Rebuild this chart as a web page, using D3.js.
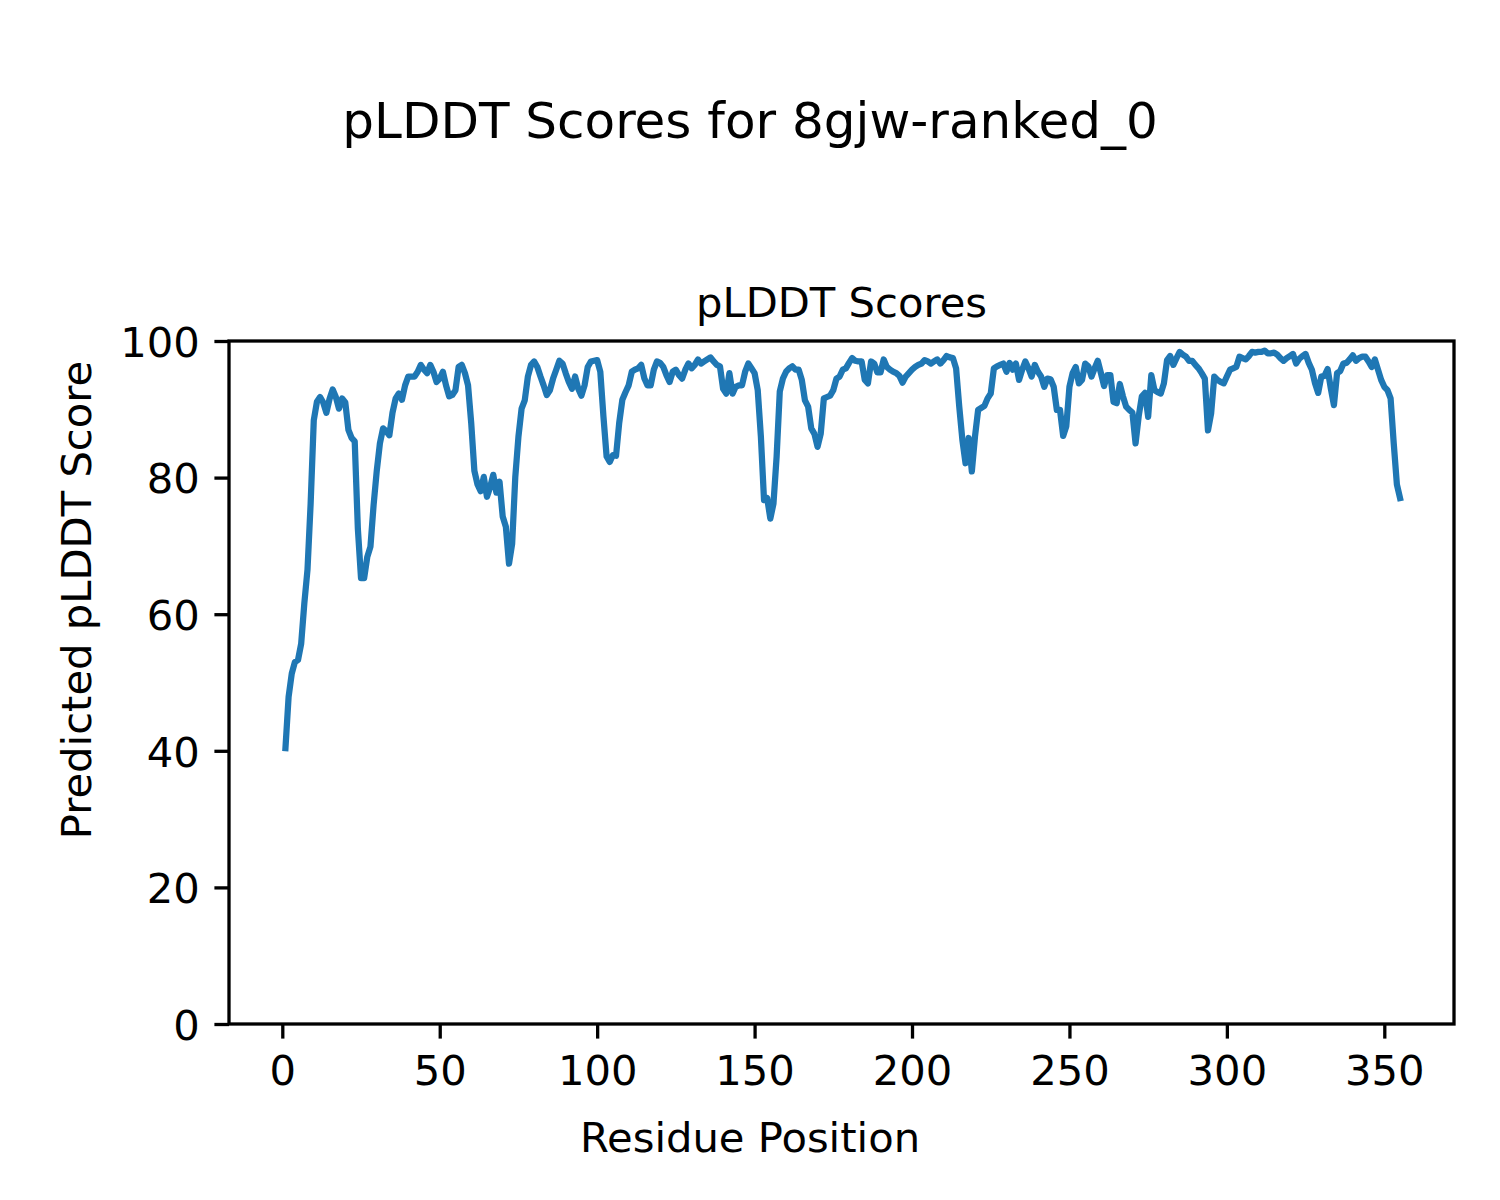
<!DOCTYPE html>
<html>
<head>
<meta charset="utf-8">
<script src="https://cdn.jsdelivr.net/npm/d3@7"></script>
<style>
  html, body { margin: 0; padding: 0; background: #ffffff; }
  svg { display: block; }
  text { font-family: "DejaVu Sans", sans-serif; fill: #000; }
</style>
</head>
<body>
<div id="chart"></div>
<script>
// ---- Data ----
const figureTitle = "pLDDT Scores for 8gjw-ranked_0";
const axesTitle = "pLDDT Scores";
const xLabel = "Residue Position";
const yLabel = "Predicted pLDDT Score";
const xTicks = [0, 50, 100, 150, 200, 250, 300, 350];
const yTicks = [0, 20, 40, 60, 80, 100];

// pLDDT score for residues 1..355 (in order)
const scores = [
  40.4, 47.9, 51.3, 53.0, 53.3, 55.7, 61.6, 66.5, 76.2, 88.4,
  91.1, 91.8, 91.0, 89.5, 91.5, 92.9, 91.8, 90.1, 91.6, 91.0,
  87.0, 85.8, 85.3, 72.5, 65.3, 65.3, 68.4, 69.9, 76.0, 81.0,
  85.0, 87.2, 86.8, 86.2, 89.5, 91.6, 92.3, 91.4, 93.5, 94.8,
  94.8, 94.8, 95.5, 96.5, 95.8, 95.3, 96.5, 95.5, 94.0, 94.5,
  95.5, 93.5, 91.9, 92.1, 92.8, 96.2, 96.5, 95.3, 93.5, 88.0,
  81.0, 79.0, 78.0, 80.1, 77.2, 78.6, 80.4, 77.8, 79.4, 74.3,
  72.8, 67.4, 70.3, 80.1, 86.0, 90.1, 91.3, 94.8, 96.5, 97.0,
  96.2, 94.8, 93.5, 92.1, 92.8, 94.5, 95.8, 97.1, 96.7, 95.3,
  94.0, 93.0, 94.8, 93.0, 92.0, 93.5, 96.2, 97.0, 97.1, 97.2,
  95.5, 88.9, 83.1, 82.3, 83.3, 83.2, 88.0, 91.4, 92.5, 93.5,
  95.5, 95.8, 96.0, 96.5, 94.5, 93.5, 93.5, 95.8, 97.0, 96.8,
  96.2, 95.0, 94.0, 95.5, 95.8, 95.0, 94.5, 95.8, 96.7, 96.0,
  96.5, 97.3, 96.7, 97.0, 97.3, 97.6, 97.0, 96.5, 96.3, 93.0,
  92.3, 95.3, 92.3, 93.3, 93.5, 93.5, 95.5, 96.7, 96.0, 95.3,
  92.8, 86.0, 76.7, 77.0, 74.0, 76.2, 83.1, 92.6, 94.5, 95.5,
  96.0, 96.3, 95.8, 95.8, 94.3, 91.3, 90.4, 87.2, 86.4, 84.5,
  86.4, 91.6, 91.8, 92.0, 92.8, 94.5, 94.8, 95.8, 96.0, 96.8,
  97.5, 97.1, 97.0, 97.0, 94.3, 93.8, 97.0, 96.7, 95.4, 95.4,
  97.3, 96.2, 95.8, 95.5, 95.3, 94.9, 93.9, 94.8, 95.3, 95.8,
  96.2, 96.5, 96.7, 97.2, 97.0, 96.7, 97.0, 97.3, 96.7, 97.2,
  97.8, 97.6, 97.5, 96.0, 90.4, 85.5, 82.1, 85.8, 80.9, 86.0,
  89.9, 90.2, 90.5, 91.6, 92.3, 96.0, 96.3, 96.5, 96.7, 95.5,
  96.8, 95.8, 96.7, 94.3, 95.8, 97.0, 96.0, 94.8, 96.5, 95.5,
  94.8, 93.3, 94.5, 94.4, 93.3, 89.9, 89.9, 86.1, 87.5, 93.3,
  95.3, 96.2, 93.8, 94.3, 96.7, 96.3, 94.8, 96.0, 97.1, 95.3,
  93.4, 95.0, 95.0, 91.1, 90.9, 93.7, 91.9, 90.4, 89.9, 89.5,
  85.0, 89.0, 91.9, 92.4, 88.9, 95.0, 92.8, 92.5, 92.3, 93.8,
  97.2, 97.8, 96.5, 97.5, 98.4, 98.0, 97.7, 97.1, 97.1, 96.5,
  96.0, 95.3, 94.5, 86.9, 89.4, 94.8, 94.3, 94.0, 93.8, 94.8,
  95.8, 96.0, 96.2, 97.7, 97.5, 97.3, 97.8, 98.4, 98.3, 98.4,
  98.4, 98.6, 98.2, 98.2, 98.3, 98.0, 97.5, 97.1, 97.5, 97.8,
  98.1, 96.7, 97.4, 97.8, 98.1, 96.8, 95.8, 93.8, 92.4, 94.8,
  94.9, 95.9, 93.1, 90.6, 95.3, 95.6, 96.7, 96.8, 97.3, 97.9,
  97.1, 97.5, 97.7, 97.7, 97.0, 96.2, 97.3, 95.8, 94.3, 93.3,
  92.8, 91.6, 85.0, 79.0, 77.0
];
const residues = scores.map((_, i) => i + 1);

// ---- Layout ----
const W = 1500, H = 1200;
const axL = 229, axR = 1454, axT = 341, axB = 1024;
const fs = 41.7;        // 10pt at 300 dpi
const fsBig = 50;       // 12pt at 300 dpi
const tickLen = 14.6, tickPad = 14.6, lw = 3.3;

const svg = d3.select("#chart").append("svg")
  .attr("width", W).attr("height", H)
  .attr("viewBox", `0 0 ${W} ${H}`);
svg.append("rect").attr("width", W).attr("height", H).attr("fill", "#fff");

const x = d3.scaleLinear().domain([0, 350]).range([282.3, 1384.3]);
const y = d3.scaleLinear().domain([0, 100]).range([axB, axT]);

// Line
const line = d3.line().x((d, i) => x(residues[i])).y(d => y(d));
svg.append("path")
  .datum(scores)
  .attr("d", line)
  .attr("fill", "none")
  .attr("stroke", "#1f77b4")
  .attr("stroke-width", 6.25)
  .attr("stroke-linejoin", "round")
  .attr("stroke-linecap", "square");

// Frame
svg.append("rect")
  .attr("x", axL).attr("y", axT)
  .attr("width", axR - axL).attr("height", axB - axT)
  .attr("fill", "none").attr("stroke", "#000").attr("stroke-width", lw);

// X axis
const xAxis = d3.axisBottom(x).tickValues(xTicks).tickSize(tickLen).tickPadding(tickPad).tickFormat(d3.format("d"));
const gx = svg.append("g").attr("transform", `translate(0,${axB})`).call(xAxis);
gx.select(".domain").remove();
gx.selectAll(".tick line").attr("stroke", "#000").attr("stroke-width", lw);
gx.selectAll(".tick text")
  .attr("font-size", fs).attr("font-family", "DejaVu Sans")
  .attr("dy", null).attr("y", tickLen + tickPad + fs * 0.76)
  .attr("fill", "#000");

// Y axis
const yAxis = d3.axisLeft(y).tickValues(yTicks).tickSize(tickLen).tickPadding(tickPad).tickFormat(d3.format("d"));
const gy = svg.append("g").attr("transform", `translate(${axL},0)`).call(yAxis);
gy.select(".domain").remove();
gy.selectAll(".tick line").attr("stroke", "#000").attr("stroke-width", lw);
gy.selectAll(".tick text")
  .attr("font-size", fs).attr("font-family", "DejaVu Sans")
  .attr("dy", null).attr("y", fs * 0.365)
  .attr("fill", "#000");

// Titles and labels
svg.append("text").text(figureTitle)
  .attr("x", 750).attr("y", 138).attr("text-anchor", "middle")
  .attr("font-size", fsBig);
svg.append("text").text(axesTitle)
  .attr("x", (axL + axR) / 2).attr("y", 317).attr("text-anchor", "middle")
  .attr("font-size", fs);
svg.append("text").text(xLabel)
  .attr("x", 750).attr("y", 1152).attr("text-anchor", "middle")
  .attr("font-size", fs);
svg.append("text").text(yLabel)
  .attr("transform", "translate(91,600) rotate(-90)")
  .attr("text-anchor", "middle")
  .attr("font-size", fs);
</script>
</body>
</html>
